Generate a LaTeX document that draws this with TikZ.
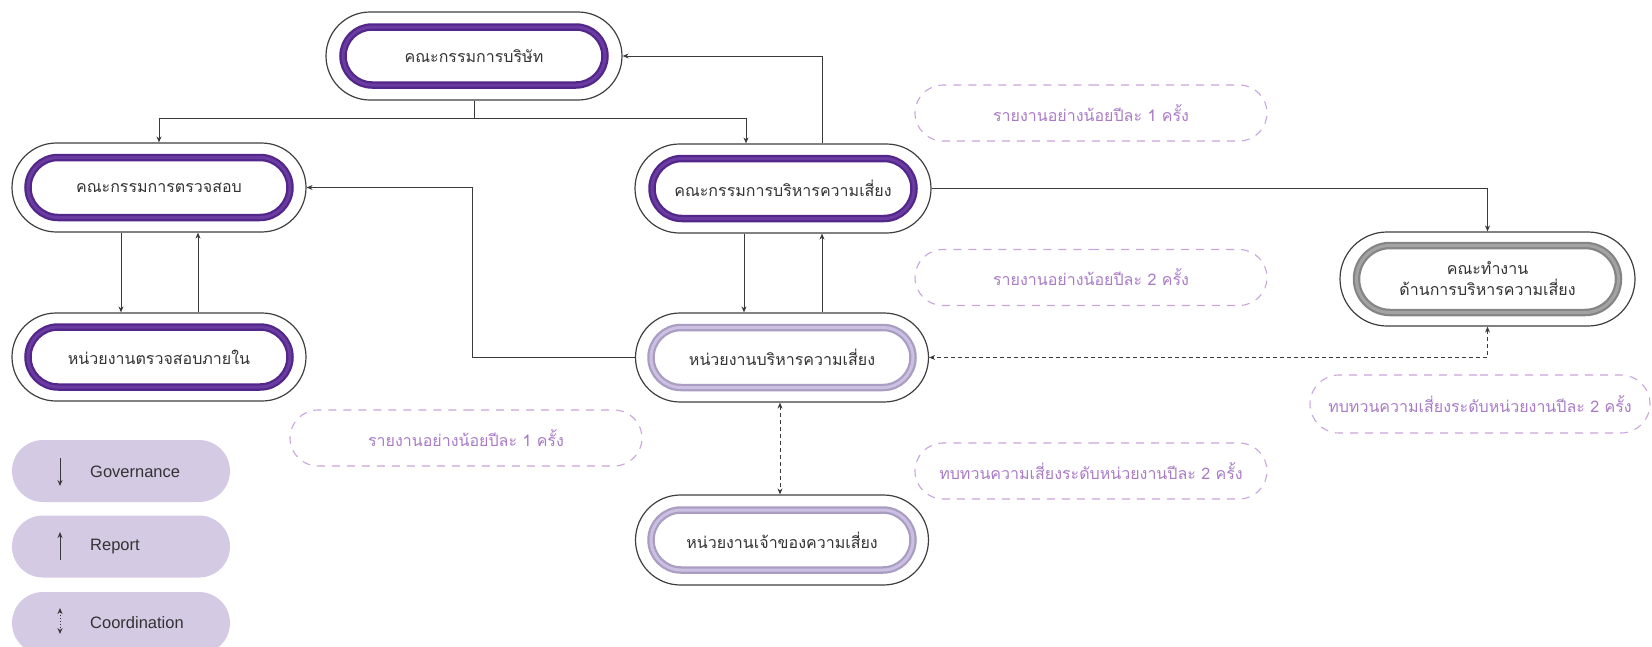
\documentclass[tikz,border=0pt]{standalone}
\usepackage{fontspec}
\setmainfont{Liberation Sans}
\newfontfamily\thai[Script=Thai]{Loma}
\usetikzlibrary{shapes.misc,arrows.meta}
\definecolor{ring}{HTML}{3F3F3F}
\definecolor{deeppurple}{HTML}{53268A}
\definecolor{deeppurplelight}{HTML}{6A3CA2}
\definecolor{lav}{HTML}{A99DC2}
\definecolor{lavlight}{HTML}{CBBFE2}
\definecolor{grayr}{HTML}{858585}
\definecolor{grayrlight}{HTML}{A3A3A3}
\definecolor{dashcol}{HTML}{C9A5DD}
\definecolor{labelcol}{HTML}{A97BC6}
\definecolor{pill}{HTML}{D4CAE4}
\definecolor{txt}{HTML}{333333}
\definecolor{conn}{HTML}{3A3A3A}
\newcommand\ringbox[7]{% name, position, outer w, outer h, inner h, kind, text
  \node[outer, minimum width=#3, minimum height=#4] (#1) at (#2) {};
  \node[#6, minimum height=#5] (#1-in) at (#2) {};
  \node[#6hi, minimum height=#5] (#1-t) at (#2) {#7};
}
\begin{document}
\begin{tikzpicture}[x=1pt,y=-1pt,
  outer/.style={rounded rectangle, draw=ring, line width=1.2pt, inner sep=0pt, fill=white},
  innerbase/.style={rounded rectangle, line width=7.5pt, minimum width=262pt, inner sep=0pt},
  innerhi/.style={rounded rectangle, line width=3pt, minimum width=262pt, inner sep=0pt,
     align=center, text=txt, font=\thai\fontsize{16}{21}\selectfont},
  purp/.style={innerbase, draw=deeppurple, fill=white},
  purphi/.style={innerhi, draw=deeppurplelight},
  lavr/.style={innerbase, draw=lav, fill=white},
  lavrhi/.style={innerhi, draw=lavlight},
  grr/.style={innerbase, draw=grayr, fill=white},
  grrhi/.style={innerhi, draw=grayrlight},
  arr/.style={draw=conn, line width=0.9pt, -{Stealth[length=6pt,width=5pt]}},
  darr/.style={draw=conn, line width=0.9pt, dash pattern=on 4pt off 3pt,
     {Stealth[length=6pt,width=5pt]}-{Stealth[length=6pt,width=5pt]}},
  plain/.style={draw=conn, line width=0.9pt},
  note/.style={rounded rectangle, draw=dashcol, line width=1.1pt, dash pattern=on 8pt off 7pt,
     minimum width=352pt, minimum height=56pt, inner sep=0pt, text=labelcol,
     font=\thai\fontsize{16}{20}\selectfont},
  pillbox/.style={rounded rectangle, fill=pill, minimum width=218pt, minimum height=62pt, inner sep=0pt},
  legtext/.style={anchor=west, text=txt, font=\fontsize{16.5}{19}\selectfont, inner sep=0pt}
]
\useasboundingbox (0,0) rectangle (1652,646);

% main boxes
\ringbox{board}{474,56}{296pt}{88pt}{58pt}{purp}{คณะกรรมการบริษัท}
\ringbox{audit}{159,187.5}{294pt}{89pt}{60pt}{purp}{คณะกรรมการตรวจสอบ}
\ringbox{riskc}{783,188.5}{296pt}{89pt}{60pt}{purp}{คณะกรรมการบริหารความเสี่ยง}
\ringbox{ia}{159,357}{294pt}{88pt}{60pt}{purp}{หน่วยงานตรวจสอบภายใน}
\ringbox{ru}{782,357.5}{293pt}{89pt}{60pt}{lavr}{หน่วยงานบริหารความเสี่ยง}
\ringbox{ro}{782,540}{293pt}{90pt}{60pt}{lavr}{หน่วยงานเจ้าของความเสี่ยง}
\ringbox{wg}{1487.5,279}{295pt}{94pt}{67pt}{grr}{คณะทำงาน\\ด้านการบริหารความเสี่ยง}

% dashed notes
\node[note] (n1) at (1091,113) {รายงานอย่างน้อยปีละ 1 ครั้ง};
\node[note] (n2) at (1091,277.5) {รายงานอย่างน้อยปีละ 2 ครั้ง};
\node[note] (n3) at (466,438) {รายงานอย่างน้อยปีละ 1 ครั้ง};
\node[note] (n4) at (1091,471) {ทบทวนความเสี่ยงระดับหน่วยงานปีละ 2 ครั้ง};
\node[note, minimum width=340pt, minimum height=58pt] (n5) at (1480,404) {ทบทวนความเสี่ยงระดับหน่วยงานปีละ 2 ครั้ง};

% connectors
\draw[plain] (board.south) -- ++(0,18) coordinate (bsplit);
\draw[arr] (bsplit) -| (audit.north);
\draw[arr] (bsplit) -| ([xshift=-37pt]riskc.north);
\draw[arr] ([xshift=39pt]riskc.north) |- (board.east);
\draw[arr] (riskc.east) -| (wg.north);
\draw[arr] ([xshift=-38pt]audit.south) -- ([xshift=-38pt]audit.south |- ia.north);
\draw[arr] ([xshift=39pt]audit.south |- ia.north) -- ([xshift=39pt]audit.south);
\draw[arr] ([xshift=-39pt]riskc.south) -- ([xshift=-39pt]riskc.south |- ru.north);
\draw[arr] ([xshift=39pt]riskc.south |- ru.north) -- ([xshift=39pt]riskc.south);
\draw[arr] (ru.west) -- ++(-162,0) |- (audit.east);
\draw[darr] (wg.south) |- (ru.east);
\draw[darr] ([xshift=-2pt]ru.south) -- ([xshift=-2pt]ro.north);

% legend
\node[pillbox] (p1) at (121,471) {};
\node[pillbox] (p2) at (121,546.5) {};
\node[pillbox] (p3) at (121,623) {};
\coordinate (g1) at (60,458); \coordinate (g2) at (60,486);
\coordinate (r1) at (60,560); \coordinate (r2) at (60,532);
\coordinate (c1) at (60,608); \coordinate (c2) at (60,634);
\draw[arr] (g1) -- (g2);
\draw[arr] (r1) -- (r2);
\draw[darr, dash pattern=on 1.5pt off 1.5pt] (c1) -- (c2);
\node[legtext] (t1) at (90,472) {Governance};
\node[legtext] (t2) at (90,547) {Report};
\node[legtext] (t3) at (90,623) {Coordination};
\end{tikzpicture}
\end{document}
